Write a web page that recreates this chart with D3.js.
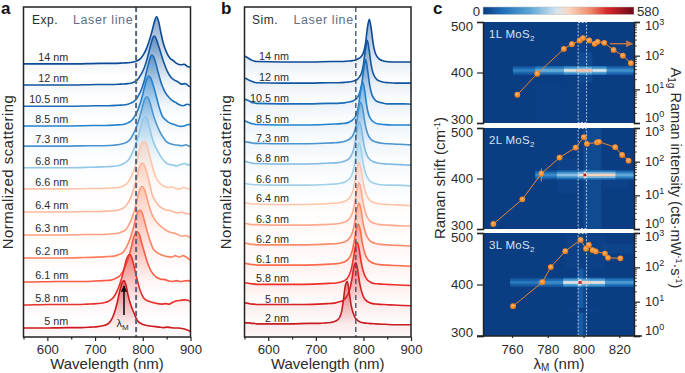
<!DOCTYPE html>
<html>
<head>
<meta charset="utf-8">
<script src="https://cdn.jsdelivr.net/npm/d3@7"></script>
<style>
  html, body { margin: 0; padding: 0; background: #fff; }
  svg { display: block; font-family: "Liberation Sans", Arial, sans-serif; }
  text { fill: #2b2b2b; }
</style>
</head>
<body>
<svg id="chart" width="685" height="373"></svg>
<script>
// data ------------------------------------------------------------------------
const labelsA = ['14 nm','12 nm','10.5 nm','8.5 nm','7.3 nm','6.8 nm','6.6 nm','6.4 nm','6.3 nm','6.2 nm','6.1 nm','5.8 nm','5 nm'];
const labelsB = ['14 nm','12 nm','10.5 nm','8.5 nm','7.3 nm','6.8 nm','6.6 nm','6.4 nm','6.3 nm','6.2 nm','6.1 nm','5.8 nm','5 nm','2 nm'];

// resonance wavelength of every curve (nm)
const peaksA = [829,823.5,818.7,813,808.2,805.3,803.2,799,799,794.2,788.5,773.2,760.6];
const peaksB = [812.3,808.1,804.8,798.5,794.3,791.3,790.7,790.7,790.7,790.7,789.2,787.1,784.4,766.1];

// vertical offset of each curve in the stack (normalized scattering x 100)
const stackA = [581,536,491,449,406,360,315,266,217,168,117,68,19];
const stackB = [585,540,496,451,411,368,323,282,238,196,153,112,69,28];

// panel a: nm from the resonance, then signal at those positions
const offsetsA = [-290,-230,-170,-120,-90,-70,-55,-45,-35,-28,-21,-14,-9,-4,0,4,9,14,21,28,35,42,50,58,66,74,82,90,98,106,114,122,130,140];
const sigA14 = [0,0,0,1,1,2,3,5,10,19,33,54,72,92,100,91,66,44,24,12,7,1,-2,-1,-6,-7];
const sigA12 = [0,0,0,1,1,2,3,5,11,21,35,57,77,96,104,100,85,69,47,29,17,11,7,2,3,-3,-2];
const sigA105 = [0,0,0,1,1,2,3,6,12,22,37,60,81,100,109,105,90,70,46,30,20,13,8,3,1,4,2];
const sigA85 = [0,0,0,1,1,2,3,6,13,24,40,63,84,101,106,101,86,68,41,21,13,7,4,1,-1,0,3,2];
const sigA73 = [0,0,0,1,1,2,4,7,14,26,42,64,84,100,105,101,85,66,46,30,18,9,5,3,2,1,3,0,0];
const sigA68 = [0,0,0,1,2,3,5,9,17,30,48,69,90,105,109,104,85,65,45,32,20,12,7,6,4,7,9,6,10];
const sigA66 = [0,0,0,1,1,2,3,6,13,25,42,65,87,99,101,97,80,60,34,18,10,5,3,4,1,0,3,1,0];
const sigA64 = [0,0,0,1,1,2,3,6,12,23,40,64,85,100,104,100,85,66,36,22,13,8,4,3,0,-2,0,-3,-4,-5];
const sigA63 = [0,0,0,1,1,2,3,6,11,22,38,62,84,99,103,98,82,62,42,30,22,16,10,6,4,1,-2,-1,-4,-5];
const sigA62 = [0,0,0,1,2,3,4,7,13,24,41,64,85,99,102,97,80,61,37,19,12,8,5,3,2,5,2,5,1,-5];
const sigA61 = [0,0,1,1,2,3,4,8,15,27,44,68,90,104,107,102,84,66,42,25,15,9,6,5,2,1,3,1,2,3,0];
const sigA58 = [0,0,1,1,2,3,5,8,16,28,46,70,92,105,108,100,80,58,32,16,10,7,5,3,2,3,2,6,9,10,11,10,2];
const sigA5 = [0,0,0,1,1,2,3,5,8,15,30,55,78,96,101,92,68,50,32,16,10,7,5,4,3,2,1,2,1,0,0,-1,-3,-8];
const signalsA = [sigA14,sigA12,sigA105,sigA85,sigA73,sigA68,sigA66,sigA64,sigA63,sigA62,sigA61,sigA58,sigA5];

// panel b: the first six values sit at fixed wavelengths, the rest follow the resonance
const fixedWlB = [550,555,560,565,570,575];
const offsetsB = [-180,-120,-80,-60,-45,-35,-27,-21,-16,-12,-8,-4,0,4,8,12,16,21,27,35,45,60,80,100,140];
const sigB14 = [13,10,7,4,2,1,0,0,1,1,2,3,5,8,13,21,39,72,91,72,40,21,12,6,3,1,0,0,0,0,-1];
const sigB12 = [11,9,6,4,2,1,0,0,1,1,2,3,5,8,14,22,40,72,91,70,40,22,13,7,4,2,1,0,0,0,0];
const sigB105 = [10,8,6,3,2,1,0,0,1,1,2,4,6,10,16,26,44,76,94,72,42,23,13,7,4,2,0,0,0,-1,-1];
const sigB85 = [9,7,5,3,2,1,0,0,1,2,3,4,7,11,17,27,46,76,92,74,44,24,14,8,4,2,1,0,0,0,-1];
const sigB73 = [5,4,3,2,1,1,0,0,1,2,3,5,8,12,19,30,48,76,89,76,50,30,18,10,6,3,1,0,-1,-2,-3];
const sigB68 = [6,5,3,2,1,1,0,0,1,2,3,5,8,12,20,31,50,76,90,78,52,31,19,11,6,3,1,0,-1,-2,-3];
const sigB66 = [4,3,2,2,1,1,0,0,1,2,3,5,8,13,20,32,52,78,90,78,52,32,20,11,6,3,1,0,0,-1,-2];
const sigB64 = [3,3,2,1,1,1,0,0,1,2,3,5,8,13,21,33,53,78,89,76,52,32,20,11,6,3,1,0,-1,-2,-3];
const sigB63 = [4,3,2,1,1,1,0,0,1,2,3,5,8,13,21,33,53,78,90,76,52,32,20,11,6,3,1,0,-1,-2,-2];
const sigB62 = [4,3,2,1,1,0,0,0,1,2,3,5,8,13,21,33,54,78,89,76,50,31,19,11,6,3,1,0,-1,-2,-3];
const sigB61 = [4,3,2,1,1,0,0,0,1,2,3,5,8,13,21,33,54,78,87,76,50,31,19,11,6,3,1,0,-1,-2,-3];
const sigB58 = [3,3,2,1,1,0,0,0,1,2,3,5,8,13,22,35,56,80,89,74,48,30,18,10,5,2,1,0,-1,-2,-3];
const sigB5 = [4,3,2,1,1,0,0,0,1,2,3,6,9,15,24,37,58,82,89,70,44,27,16,9,5,2,1,0,-1,-2,-3];
const sigB2 = [3,2,2,1,1,0,0,0,1,1,2,3,5,8,14,26,52,82,90,68,40,24,14,8,4,2,1,0,-1,-2,-2];
const signalsB = [sigB14,sigB12,sigB105,sigB85,sigB73,sigB68,sigB66,sigB64,sigB63,sigB62,sigB61,sigB58,sigB5,sigB2];

const coloursA = ['#0d4a96','#12569f','#1b6cb8','#2282d0','#4c94cf','#93c8e6','#ffc4aa','#ffb89d','#ffa083','#fd7f60','#f95a44','#e6302a','#cc1a1f'];
const coloursB = ['#0d4a96','#12569f','#1b6cb8','#2282d0','#4c94cf','#7fb8e0','#9fd0ea','#ffc4aa','#ffa98c','#fd8a6b','#fb6a4c','#ee2f28','#d81f22','#c81c20'];

const laserA = 786;
const laserB = 784;

// panel c
const layers = ['1L MoS', '2L MoS', '3L MoS'];
const lamP1 = [763,774.1,789,793.5,797.9,799.7,803.2,806.2,807.9,811.6,816.8,822,826.5];
const intP1 = [6.9,29,159,219,283,333,283,224,257,240,148,100,60];
const lamP2 = [749.6,765.8,776.4,786.6,795.6,800.2,801.9,807.5,808.6,817.7,821.6,825.2];
const intP2 = [1.41,7.6,44,132,263,537,339,372,389,269,158,107];
const lamP3 = [760.6,777,781.7,789.8,798.4,801.4,803,805.1,806.8,812,813.7,820.6];
const intP3 = [7.4,37,102,296,630,349,447,316,290,252,189,183];
const errP2 = [776.4,26,63];

// Raman band: wavelength edges and the band intensity between them
const bandEdgesP1 = [760.5,773,789,796,805,813,828.2];
const bandValsP1 = [105,190,300,350,285,135];
const bandEdgesP2 = [773,785,797,800,801.6,818,828.2];
const bandValsP2 = [125,220,310,520,335,185];
const bandEdgesP3 = [759,774.5,788.6,797,799,804,812,828.2];
const bandValsP3 = [95,125,295,500,330,300,155];
const bandCentres = [404,407,404];
// Raman half widths of the band rows and their share of the band intensity
const bandHalf = [9,6,2.6];
const bandShare = [0.3,0.6,1];

// background cells: lam0, lam1, raman0, raman1, intensity
const cellsP1 = [[773,789,300,380,8],[789,797,300,400,6],[797,801,300,500,12],[797,805,380,440,22]];
const cellsP2 = [[800,810,300,500,22],[785,797,370,440,12],[810,825,380,420,9]];
const cellsP3 = [[797,800,300,500,48],[800,802,300,500,20],[790,812,430,500,10],[810,828,460,480,14],[790,810,345,355,8]];

const heatStops = [0,75,180,284,330,412,476,580];
const heatColours = ['#0a3a80','#1e6fb8','#5aa6d6','#d5e6ef','#fbd6c0','#f08a6a','#d8282a','#6a0a18'];

// drawing -----------------------------------------------------------------------
const svg = d3.select('#chart');
const defs = svg.append('defs');
const ink = '#222';

// left two panels
function scatterPanel(o) {
  const x = d3.scaleLinear().domain([550, 900]).range([o.left, o.right]);
  const y = d3.scaleLinear().domain([0, 702]).range([337, 7]);
  const g = svg.append('g');

  defs.append('clipPath').attr('id', o.id + '-clip')
    .append('rect').attr('x', o.left).attr('y', 7).attr('width', o.right - o.left).attr('height', 330);

  const plot = g.append('g').attr('clip-path', `url(#${o.id}-clip)`);
  const line = d3.line().x(d => x(d[0])).y(d => y(d[1])).curve(d3.curveMonotoneX);

  o.signals.forEach((sig, i) => {
    const pts = sig.map((v, k) => [o.wl(k, i), o.stack[i] + v]);
    const gradId = `${o.id}-fill-${i}`;
    const top = y(o.stack[i] + d3.max(sig));
    const base = y(o.stack[i]);
    const bottom = base + o.fade;
    const grad = defs.append('linearGradient').attr('id', gradId)
      .attr('gradientUnits', 'userSpaceOnUse')
      .attr('x1', 0).attr('x2', 0).attr('y1', top).attr('y2', bottom);
    grad.append('stop').attr('offset', 0).attr('stop-color', o.colours[i]).attr('stop-opacity', 0.5);
    grad.append('stop').attr('offset', (base - top) / (bottom - top)).attr('stop-color', o.colours[i]).attr('stop-opacity', o.baseAlpha);
    grad.append('stop').attr('offset', 1).attr('stop-color', o.colours[i]).attr('stop-opacity', 0);

    plot.append('path')
      .attr('d', d3.area().x(d => x(d[0])).y0(bottom).y1(d => y(d[1])).curve(d3.curveMonotoneX)(pts))
      .attr('fill', `url(#${gradId})`);
    plot.append('path')
      .attr('d', line(pts))
      .attr('fill', 'none')
      .attr('stroke', o.colours[i])
      .attr('stroke-width', 1.6);
    g.append('text')
      .attr('x', o.labelX).attr('y', base - o.labelGap)
      .attr('text-anchor', 'end').attr('font-size', 10.8)
      .text(o.labels[i]);
  });

  // laser line
  g.append('line')
    .attr('x1', x(o.laser)).attr('x2', x(o.laser)).attr('y1', 7).attr('y2', 337)
    .attr('stroke', o.laserColour).attr('stroke-width', o.laserWidth).attr('stroke-dasharray', '5,3');

  g.append('rect')
    .attr('x', o.left).attr('y', 7).attr('width', o.right - o.left).attr('height', 330)
    .attr('fill', 'none').attr('stroke', ink).attr('stroke-width', 1.5);

  // axis
  const axis = g.append('g').attr('transform', 'translate(0,337)')
    .call(d3.axisBottom(x).tickValues([600,700,800,900]).tickSize(4).tickPadding(4).tickFormat(d3.format('d')));
  axis.select('.domain').remove();
  axis.selectAll('text').attr('font-size', 13.2).attr('font-family', 'inherit').style('fill', '#2b2b2b');
  axis.selectAll('line').attr('stroke', ink).attr('stroke-width', 1.2);
  const minor = g.append('g').attr('transform', 'translate(0,337)')
    .call(d3.axisBottom(x).tickValues([550,650,750,850]).tickSize(2.5).tickFormat(''));
  minor.select('.domain').remove();
  minor.selectAll('line').attr('stroke', ink).attr('stroke-width', 1.2);

  g.append('text').attr('x', (o.left + o.right) / 2).attr('y', 369)
    .attr('text-anchor', 'middle').attr('font-size', 15).text('Wavelength (nm)');
  g.append('text')
    .attr('transform', `translate(${o.yTitleX},172) rotate(-90)`)
    .attr('text-anchor', 'middle').attr('font-size', 15).attr('letter-spacing', 0.45)
    .text('Normalized scattering');

  g.append('text').attr('x', o.tagX).attr('y', 24).attr('font-size', 12).attr('letter-spacing', 0.5).text(o.tag);
  g.append('text').attr('x', o.laserLabelX).attr('y', 24).attr('font-size', 12.5).attr('letter-spacing', 0.6)
    .style('fill', '#5f6e88').text('Laser line');
  return { x, y, g };
}

const panelA = scatterPanel({
  id: 'a', left: 23.5, right: 190.5, signals: signalsA, stack: stackA, colours: coloursA, labels: labelsA,
  wl: (k, i) => peaksA[i] + offsetsA[k], fade: 14, baseAlpha: 0.05, labelX: 68.3, labelGap: 3,
  laser: laserA, laserColour: '#55657f', laserWidth: 2, yTitleX: 13, tag: 'Exp.', tagX: 32, laserLabelX: 73
});
scatterPanel({
  id: 'b', left: 244.5, right: 411, signals: signalsB, stack: stackB, colours: coloursB, labels: labelsB,
  wl: (k, i) => k < fixedWlB.length ? fixedWlB[k] : peaksB[i] + offsetsB[k - fixedWlB.length], fade: 20, baseAlpha: 0.09, labelX: 289, labelGap: 2,
  laser: laserB, laserColour: '#3c4a63', laserWidth: 1.3, yTitleX: 230.5, tag: 'Sim.', tagX: 252, laserLabelX: 293.5
});

// lambda_M arrow in panel a
defs.append('marker').attr('id', 'head').attr('viewBox', '0 0 10 10').attr('refX', 9).attr('refY', 5)
  .attr('markerWidth', 6.5).attr('markerHeight', 6.5).attr('markerUnits', 'userSpaceOnUse').attr('orient', 'auto')
  .append('path').attr('d', 'M0,0L10,5L0,10Z').attr('fill', '#111');
panelA.g.append('line')
  .attr('x1', panelA.x(peaksA[12])).attr('x2', panelA.x(peaksA[12])).attr('y1', 315).attr('y2', 286)
  .attr('stroke', '#111').attr('stroke-width', 1.6).attr('marker-end', 'url(#head)');
const lamLabel = panelA.g.append('text').attr('x', 116.5).attr('y', 326.5).attr('font-size', 11);
lamLabel.append('tspan').text('λ');
lamLabel.append('tspan').text('M').attr('font-size', 8).attr('dy', 3);

// panel c
const heatColour = d3.scaleLinear().domain(heatStops).range(heatColours);
const cx = d3.scaleLinear().domain([760, 820]).range([512, 619.3]);
const cLeft = cx(743.8), cRight = cx(828.2);

const tops = [22, 128, 233];
const bottoms = [123, 229, 336];
const pointsByPanel = [[lamP1,intP1],[lamP2,intP2],[lamP3,intP3]];
const edgesByPanel = [bandEdgesP1,bandEdgesP2,bandEdgesP3];
const valsByPanel = [bandValsP1,bandValsP2,bandValsP3];
const cellsByPanel = [cellsP1,cellsP2,cellsP3];

defs.append('filter').attr('id', 'soft').attr('x', '-5%').attr('y', '-60%').attr('width', '110%').attr('height', '220%')
  .append('feGaussianBlur').attr('stdDeviation', 0.4);
const ballGrad = defs.append('radialGradient').attr('id', 'ball').attr('cx', '45%').attr('cy', '40%').attr('r', '60%');
ballGrad.append('stop').attr('offset', 0).attr('stop-color', '#ffb877');
ballGrad.append('stop').attr('offset', 0.6).attr('stop-color', '#f68d2e');
ballGrad.append('stop').attr('offset', 1).attr('stop-color', '#e87a1c');

layers.forEach((name, p) => {
  const ry = d3.scaleLinear().domain([300, 500]).range([bottoms[p], tops[p]]);
  const iy = d3.scaleLog().domain([1, 1000]).range([bottoms[p], tops[p]]);
  const g = svg.append('g');

  g.append('rect').attr('x', cLeft).attr('y', tops[p]).attr('width', cRight - cLeft).attr('height', bottoms[p] - tops[p])
    .attr('fill', heatColour(4));

  g.selectAll('rect.cell').data(cellsByPanel[p]).enter().append('rect').attr('class', 'cell')
    .attr('x', d => cx(d[0])).attr('width', d => cx(d[1]) - cx(d[0]))
    .attr('y', d => ry(d[3])).attr('height', d => ry(d[2]) - ry(d[3]))
    .attr('fill', d => heatColour(d[4]));

  const band = g.append('g').attr('filter', 'url(#soft)');
  const edges = edgesByPanel[p];
  bandHalf.forEach((half, r) => {
    valsByPanel[p].forEach((v, k) => {
      band.append('rect')
        .attr('x', cx(edges[k])).attr('width', cx(edges[k + 1]) - cx(edges[k]))
        .attr('y', ry(bandCentres[p] + half)).attr('height', ry(bandCentres[p] - half) - ry(bandCentres[p] + half))
        .attr('fill', heatColour(v * bandShare[r]));
    });
  });

  // dashed window around the laser
  g.append('rect')
    .attr('x', cx(797)).attr('width', cx(801.7) - cx(797)).attr('y', tops[p] + 0.5).attr('height', bottoms[p] - tops[p] - 1)
    .attr('fill', 'none').attr('stroke', '#dfe9f5').attr('stroke-width', 0.8).attr('stroke-dasharray', '2,1.5');

  // left axis
  const left = g.append('g').attr('transform', `translate(${cLeft},0)`)
    .call(d3.axisLeft(ry).tickValues([300,400,500]).tickSize(6).tickPadding(4).tickFormat(d3.format('d')));
  left.select('.domain').attr('stroke', ink).attr('stroke-width', 1.5);
  left.selectAll('line').attr('stroke', ink).attr('stroke-width', 1.2);
  left.selectAll('text').attr('font-size', 13.2).attr('font-family', 'inherit').style('fill', '#2b2b2b')
    .attr('dy', d => d === 500 ? '0.65em' : d === 300 ? '0.05em' : '0.32em');

  // right log axis
  const right = g.append('g').attr('transform', `translate(${cRight},0)`)
    .call(d3.axisRight(iy).tickValues([1,10,100,1000]).tickSize(6).tickFormat(''));
  right.select('.domain').attr('stroke', ink).attr('stroke-width', 1.5);
  right.selectAll('line').attr('stroke', ink).attr('stroke-width', 1.2);
  const minors = [1,10,100].flatMap(m => d3.range(2, 10).map(k => k * m));
  const rightMinor = g.append('g').attr('transform', `translate(${cRight},0)`)
    .call(d3.axisRight(iy).tickValues(minors).tickSize(3).tickFormat(''));
  rightMinor.select('.domain').remove();
  rightMinor.selectAll('line').attr('stroke', ink).attr('stroke-width', 0.8);

  [1,10,100,1000].forEach((v, k) => {
    const shift = k === 0 ? -1 : k === 3 ? 8 : 4;
    const t = g.append('text').attr('x', 645).attr('y', iy(v) + shift).attr('font-size', 12.8);
    t.append('tspan').text('10');
    t.append('tspan').text(k).attr('font-size', 9).attr('dy', -5);
  });

  // intensity points
  const pts = d3.zip(pointsByPanel[p][0], pointsByPanel[p][1]);
  g.append('path')
    .attr('d', d3.line().x(d => cx(d[0])).y(d => iy(d[1]))(pts))
    .attr('fill', 'none').attr('stroke', '#e8862f').attr('stroke-width', 1);
  if (p === 1) {
    g.append('line').attr('x1', cx(errP2[0])).attr('x2', cx(errP2[0])).attr('y1', iy(errP2[1])).attr('y2', iy(errP2[2]))
      .attr('stroke', '#e8862f').attr('stroke-width', 1);
  }
  g.selectAll('circle').data(pts).enter().append('circle')
    .attr('cx', d => cx(d[0])).attr('cy', d => iy(d[1])).attr('r', 2.9)
    .attr('fill', 'url(#ball)');

  const lab = g.append('text').attr('x', 489).attr('y', tops[p] + 16).attr('font-size', 11.5).attr('letter-spacing', 0.3)
    .style('fill', '#d5e4f2');
  lab.append('tspan').text(name).style('fill', '#d5e4f2');
  lab.append('tspan').text('2').attr('font-size', 8).attr('dy', 3).style('fill', '#d5e4f2');

  if (p === 2) {
    const bottom = g.append('g').attr('transform', `translate(0,${bottoms[p]})`)
      .call(d3.axisBottom(cx).tickValues([760,780,800,820]).tickSize(2).tickPadding(7).tickFormat(d3.format('d')));
    bottom.select('.domain').remove();
    bottom.selectAll('line').attr('stroke', ink).attr('stroke-width', 1.2);
    bottom.selectAll('text').attr('font-size', 13.2).attr('font-family', 'inherit').style('fill', '#2b2b2b');
    g.append('line').attr('x1', 477).attr('x2', 642).attr('y1', bottoms[p]).attr('y2', bottoms[p])
      .attr('stroke', ink).attr('stroke-width', 1.4);
  }
});

// arrow in the 1L panel
defs.append('marker').attr('id', 'head2').attr('viewBox', '0 0 10 10').attr('refX', 9).attr('refY', 5)
  .attr('markerWidth', 9).attr('markerHeight', 7).attr('markerUnits', 'userSpaceOnUse').attr('orient', 'auto')
  .append('path').attr('d', 'M0,0L10,5L0,10Z').attr('fill', '#c9743f');
svg.append('line').attr('x1', 610).attr('x2', 632.5).attr('y1', 43.7).attr('y2', 43.7)
  .attr('stroke', '#c9743f').attr('stroke-width', 1.4).attr('marker-end', 'url(#head2)');

// colour bar
const cbScale = d3.scaleLinear().domain([0, 580]).range([cLeft, cRight]);
const cbGrad = defs.append('linearGradient').attr('id', 'cb');
heatStops.forEach((s, i) => {
  cbGrad.append('stop').attr('offset', s / 580).attr('stop-color', heatColours[i]);
});
svg.append('rect').attr('x', cbScale(0)).attr('y', 7).attr('width', cbScale(580) - cbScale(0)).attr('height', 7.5)
  .attr('fill', 'url(#cb)').attr('stroke', '#bbb').attr('stroke-width', 0.5);
svg.append('text').attr('x', 480).attr('y', 15.5).attr('text-anchor', 'end').attr('font-size', 13.2).text('0');
svg.append('text').attr('x', 637).attr('y', 15.5).attr('font-size', 13.2).text('580');

// titles of panel c
svg.append('text').attr('transform', 'translate(444.5,178) rotate(-90)')
  .attr('text-anchor', 'middle').attr('font-size', 15)
  .html('Raman shift (cm<tspan font-size="9" dy="-5">-1</tspan><tspan dy="5">)</tspan>');
svg.append('text').attr('x', 559).attr('y', 369).attr('text-anchor', 'middle').attr('font-size', 15)
  .html('λ<tspan font-size="10" dy="2">M</tspan><tspan dy="-2"> (nm)</tspan>');
svg.append('text').attr('transform', 'translate(670.5,178) rotate(90)')
  .attr('text-anchor', 'middle').attr('font-size', 14.6)
  .html('A<tspan font-size="10" dy="3">1g</tspan><tspan dy="-3"> Raman intensity (cts·mW</tspan><tspan font-size="9" dy="-5">-1</tspan><tspan dy="5">·s</tspan><tspan font-size="9" dy="-5">-1</tspan><tspan dy="5">)</tspan>');

// panel letters
[['a',1],['b',221],['c',433]].forEach(d => {
  svg.append('text').attr('x', d[1]).attr('y', 14).attr('font-size', 17).attr('font-weight', 'bold').style('fill', '#111').text(d[0]);
});
</script>
</body>
</html>
